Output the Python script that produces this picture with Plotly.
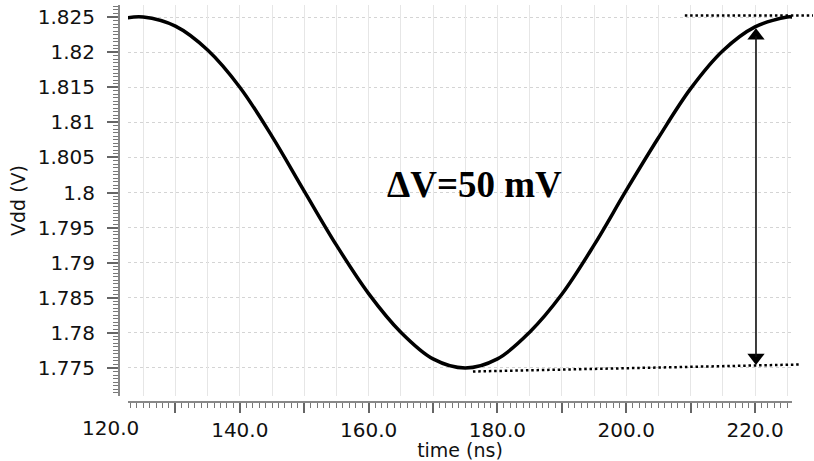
import plotly.graph_objects as go

# ---- data ----
time_ns = [122.6, 125, 130, 135, 140, 145, 150, 155, 160, 165, 170,
           175, 180, 185, 190, 195, 200, 205, 210, 215, 220, 225, 225.8]
vdd_v = [1.8249, 1.8250, 1.8237, 1.8203, 1.8150, 1.8080, 1.8002,
         1.7925, 1.7856, 1.7801, 1.7763, 1.7750, 1.7763, 1.7801, 1.7855,
         1.7925, 1.8003, 1.8078, 1.8148, 1.8202, 1.8236, 1.8250, 1.8250]

y_tick_vals = [1.775, 1.78, 1.785, 1.79, 1.795, 1.8, 1.805, 1.81, 1.815, 1.82, 1.825]
y_tick_text = ["1.775", "1.78", "1.785", "1.79", "1.795", "1.8", "1.805",
               "1.81", "1.815", "1.82", "1.825"]
x_tick_vals = [130, 140, 150, 160, 170, 180, 190, 200, 210, 220]
x_tick_text = ["", "140.0", "", "160.0", "", "180.0", "", "200.0", "", "220.0"]
first_x_label = (120, "120.0")

delta_text = "<b>ΔV=50 mV</b>"
v_max_level = 1.8252
v_min_left, v_min_right = 1.7745, 1.7755
top_line_t = (209.1, 229.0)
bottom_line_t = (176.2, 227.0)
arrow_t = 220.15
arrow_top_v, arrow_bottom_v = 1.8234, 1.77543

# ---- layout geometry ----
W, H = 814, 461
ML, MR, MT, MB = 119, 22, 5, 59
PW, PH = W - ML - MR, H - MT - MB
X_DOM = [9 / PW, 1.0]
Y_DOM = [6 / PH, 1.0]
X_RANGE = [122.64, 225.74]
Y_RANGE = [1.77101, 1.82671]


def xp(t):
    return X_DOM[0] + (t - X_RANGE[0]) / (X_RANGE[1] - X_RANGE[0]) * (X_DOM[1] - X_DOM[0])


def yp(v):
    return Y_DOM[0] + (v - Y_RANGE[0]) / (Y_RANGE[1] - Y_RANGE[0]) * (Y_DOM[1] - Y_DOM[0])


px_per_v = PH * (Y_DOM[1] - Y_DOM[0]) / (Y_RANGE[1] - Y_RANGE[0])

fig = go.Figure()
fig.add_trace(go.Scatter(x=time_ns, y=vdd_v, mode="lines",
                         line=dict(color="black", width=3.5, shape="spline", smoothing=1.0),
                         showlegend=False, hoverinfo="skip"))
# helper trace so the overlay axis (5 ns grid) is drawn
fig.add_trace(go.Scatter(x=[time_ns[0]], y=[vdd_v[0]], mode="lines", xaxis="x2",
                         line=dict(width=0), showlegend=False, hoverinfo="skip"))

# arrow heads
tri_size = 15
r = tri_size / 2
fig.add_trace(go.Scatter(
    x=[arrow_t, arrow_t],
    y=[arrow_top_v - r / px_per_v, arrow_bottom_v + r / px_per_v],
    mode="markers",
    marker=dict(symbol=["triangle-up", "triangle-down"], size=tri_size, color="black",
                line=dict(width=0)),
    showlegend=False, hoverinfo="skip"))

shapes = [
    dict(type="line", xref="paper", yref="paper",
         x0=xp(top_line_t[0]), x1=xp(top_line_t[1]),
         y0=yp(v_max_level), y1=yp(v_max_level),
         line=dict(color="black", width=2.5, dash="2.5px,2.8px")),
    dict(type="line", xref="paper", yref="paper",
         x0=xp(bottom_line_t[0]), x1=xp(bottom_line_t[1]),
         y0=yp(v_min_left), y1=yp(v_min_right),
         line=dict(color="black", width=2.5, dash="2.5px,2.8px")),
    dict(type="line", xref="paper", yref="paper",
         x0=xp(arrow_t), x1=xp(arrow_t),
         y0=yp(arrow_bottom_v) + 8 / PH, y1=yp(arrow_top_v) - 8 / PH,
         line=dict(color="#111", width=1.6)),
]

tick_font = dict(family="DejaVu Sans", size=20, color="#111")

annotations = [
    dict(x=176.4, y=1.8012, xref="x", yref="y", text=delta_text, showarrow=False,
         font=dict(family="Liberation Serif", size=37, color="black"),
         xanchor="center", yanchor="middle"),
    dict(x=xp(first_x_label[0]), y=0, xref="paper", yref="paper", text=first_x_label[1],
         showarrow=False, xanchor="center", yanchor="top", yshift=-12,
         font=tick_font),
]

fig.update_layout(
    width=W, height=H,
    margin=dict(l=ML, r=MR, t=MT, b=MB),
    paper_bgcolor="white", plot_bgcolor="white",
    shapes=shapes, annotations=annotations,
    xaxis=dict(
        domain=X_DOM, anchor="free", position=0, range=X_RANGE, automargin=False,
        tickmode="array", tickvals=x_tick_vals, ticktext=x_tick_text,
        ticks="outside", ticklen=10, tickwidth=1.5, tickcolor="#666",
        minor=dict(tickmode="linear", tick0=120, dtick=1, ticks="outside",
                   ticklen=5, tickwidth=1, tickcolor="#777", showgrid=False),
        showgrid=False, zeroline=False,
        showline=True, linecolor="#888", linewidth=2,
        tickfont=tick_font, ticklabelstandoff=0,
        title=dict(text="time (ns)", font=dict(family="DejaVu Sans", size=19, color="#111"),
                   standoff=6),
    ),
    xaxis2=dict(
        overlaying="x", matches="x", anchor="y", domain=X_DOM, range=X_RANGE,
        tickmode="linear", tick0=120, dtick=5, ticks="", showticklabels=False,
        showgrid=True, gridcolor="#e6e6e6", gridwidth=1, zeroline=False, showline=False,
        automargin=False,
    ),
    yaxis=dict(
        domain=Y_DOM, anchor="free", position=0, range=Y_RANGE, automargin=False,
        tickmode="array", tickvals=y_tick_vals, ticktext=y_tick_text,
        ticks="outside", ticklen=11, tickwidth=1.5, tickcolor="#666",
        minor=dict(tickmode="linear", tick0=1.77, dtick=0.0005, ticks="outside",
                   ticklen=5, tickwidth=1, tickcolor="#777", showgrid=False),
        showgrid=True, gridcolor="#d4d4d4", gridwidth=1, griddash="dot",
        zeroline=False, showline=True, linecolor="#888", linewidth=2,
        tickfont=tick_font, ticklabelstandoff=8,
        title=dict(text="Vdd (V)", font=dict(family="DejaVu Sans", size=19, color="#111"),
                   standoff=6),
    ),
)

fig.write_html("out.html", config={"displayModeBar": False},
               post_script="document.body.style.margin='0';")
